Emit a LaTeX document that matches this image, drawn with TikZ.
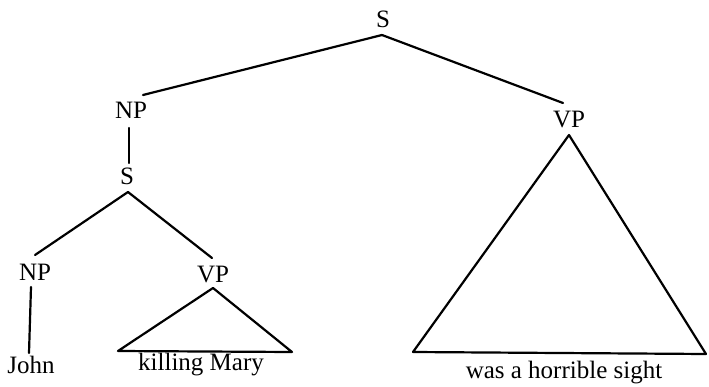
\documentclass[tikz,border=0pt]{standalone}
\usepackage{fontspec}
\setmainfont{Liberation Serif}
\begin{document}
\begin{tikzpicture}[x=1pt,y=-1pt,
  lbl/.style={anchor=base,inner sep=0pt,font=\fontsize{25}{28}\selectfont},
  edge/.style={line width=2.2pt,line cap=round,line join=round}]
\useasboundingbox (0,0) rectangle (709,387);
% labels
\node[lbl] (S0) at (383,28) {S};
\node[lbl] (NP1) at (131,119) {NP};
\node[lbl] (VP1) at (569,128) {VP};
\node[lbl] (S1) at (127,185) {S};
\node[lbl] (NP2) at (35,280) {NP};
\node[lbl] (VP2) at (213,282) {VP};
\node[lbl] (John) at (31,373) {John};
\node[lbl] (KM) at (201,370) {killing Mary};
\node[lbl] (WHS) at (564,378) {was a horrible sight};
% connector end points
\coordinate (s0j) at (382,35);
\coordinate (np1t) at (143,95);
\coordinate (vp1t) at (563,103);
\coordinate (np1b) at (129,128);
\coordinate (s1t) at (129,163);
\coordinate (s1j) at (128,192);
\coordinate (np2t) at (35,255);
\coordinate (vp2t) at (212,258);
\coordinate (np2b) at (31,287);
\coordinate (johnt) at (29,353);
\coordinate (vp2a) at (213,288);
\coordinate (vp2l) at (118,351);
\coordinate (vp2r) at (292,352);
\coordinate (vp1a) at (569,135);
\coordinate (vp1l) at (413,352);
\coordinate (vp1r) at (706,354);
% edges
\draw[edge] (s0j) -- (np1t);
\draw[edge] (s0j) -- (vp1t);
\draw[edge] (np1b) -- (s1t);
\draw[edge] (s1j) -- (np2t);
\draw[edge] (s1j) -- (vp2t);
\draw[edge] (np2b) -- (johnt);
\draw[edge] (vp2a) -- (vp2l) -- (vp2r) -- cycle;
\draw[edge] (vp1a) -- (vp1l) -- (vp1r) -- cycle;
\end{tikzpicture}
\end{document}
